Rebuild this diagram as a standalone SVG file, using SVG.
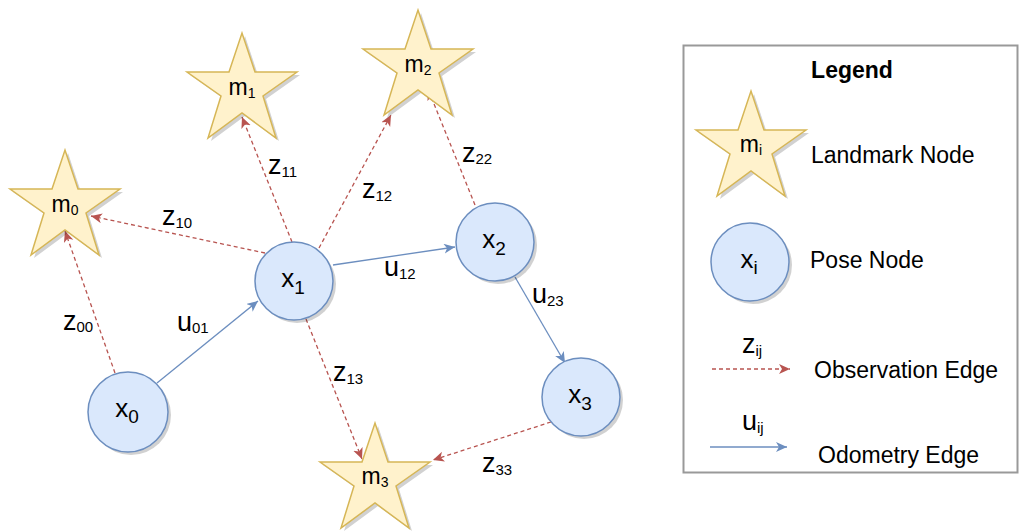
<svg xmlns="http://www.w3.org/2000/svg" xmlns:xlink="http://www.w3.org/1999/xlink" width="1020" height="532" viewBox="0 0 1020 532">
<style>
.star{fill:#fff2cc;stroke:#d6b656;stroke-width:1.5}
.shadow{fill:#000;opacity:0.18}
.pose{fill:#dae8fc;stroke:#6c8ebf;stroke-width:1.5}
.obs{fill:none;stroke:#b85450;stroke-width:1.3;stroke-dasharray:4 3;marker-end:url(#ar)}
.odo{fill:none;stroke:#6c8ebf;stroke-width:1.3;marker-end:url(#ab)}
text{font-family:"Liberation Sans",Arial,sans-serif;fill:#000}
.lbl{font-size:27px}
.nl{font-size:26px}
.ml{font-size:23px}
.sub{font-size:15px}
.xs{font-size:19px}
.ms{font-size:14px}
.leg{font-size:23px}
</style>
<defs>
<polygon id="star" points="0,39 42,39 55,0 68,39 110,39 76,63 89,105 55,80 21,105 34,63"/>
<marker id="ar" markerUnits="userSpaceOnUse" markerWidth="14" markerHeight="12" refX="11" refY="5" orient="auto"><path d="M0,0 L11,5 L0,10 L3,5 Z" fill="#b85450"/></marker>
<marker id="ab" markerUnits="userSpaceOnUse" markerWidth="14" markerHeight="12" refX="11" refY="5" orient="auto"><path d="M0,0 L11,5 L0,10 L3,5 Z" fill="#6c8ebf"/></marker>
</defs>
<rect width="1020" height="532" fill="#fff"/>

<g id="connectors">
<line class="obs" x1="115" y1="373" x2="65" y2="231"/>
<line class="obs" x1="265" y1="253" x2="91" y2="216"/>
<line class="obs" x1="292" y1="242" x2="242" y2="117"/>
<line class="obs" x1="319" y1="248" x2="391" y2="115"/>
<line class="obs" x1="475" y1="205" x2="428" y2="89"/>
<line class="obs" x1="306" y1="319" x2="362" y2="459"/>
<line class="obs" x1="551" y1="422" x2="433" y2="460"/>
<line class="odo" x1="157" y1="383" x2="258" y2="301"/>
<line class="odo" x1="333" y1="265" x2="455" y2="247"/>
<line class="odo" x1="515" y1="277" x2="565" y2="363"/>
<text class="lbl" x="63" y="330">z<tspan class="sub" dy="2">00</tspan></text>
<text class="lbl" x="177" y="331">u<tspan class="sub" dy="2">01</tspan></text>
<text class="lbl" x="162" y="225">z<tspan class="sub" dy="3">10</tspan></text>
<text class="lbl" x="268" y="174">z<tspan class="sub" dy="3">11</tspan></text>
<text class="lbl" x="362" y="198">z<tspan class="sub" dy="3">12</tspan></text>
<text class="lbl" x="462" y="162">z<tspan class="sub" dy="2">22</tspan></text>
<text class="lbl" x="384" y="276">u<tspan class="sub" dy="3">12</tspan></text>
<text class="lbl" x="532" y="303">u<tspan class="sub" dy="3">23</tspan></text>
<text class="lbl" x="333" y="381">z<tspan class="sub" dy="3">13</tspan></text>
<text class="lbl" x="482" y="472">z<tspan class="sub" dy="3">33</tspan></text>
</g>

<g id="m0" transform="translate(10,150)">
<use xlink:href="#star" class="shadow" x="3" y="3"/><use xlink:href="#star" class="star"/>
<text class="ml" x="55" y="62" text-anchor="middle">m<tspan class="ms" dy="3">0</tspan></text>
</g>
<g id="m1" transform="translate(187,33)">
<use xlink:href="#star" class="shadow" x="3" y="3"/><use xlink:href="#star" class="star"/>
<text class="ml" x="55" y="62" text-anchor="middle">m<tspan class="ms" dy="3">1</tspan></text>
</g>
<g id="m2" transform="translate(363,10)">
<use xlink:href="#star" class="shadow" x="3" y="3"/><use xlink:href="#star" class="star"/>
<text class="ml" x="55" y="62" text-anchor="middle">m<tspan class="ms" dy="3">2</tspan></text>
</g>
<g id="m3" transform="translate(320,423)">
<use xlink:href="#star" class="shadow" x="3" y="3"/><use xlink:href="#star" class="star"/>
<text class="ml" x="55" y="61" text-anchor="middle">m<tspan class="ms" dy="3">3</tspan></text>
</g>

<g id="x0">
<circle class="shadow" cx="131" cy="415" r="40"/><circle class="pose" cx="128" cy="412" r="40"/>
<text class="nl" x="127" y="417" text-anchor="middle">x<tspan class="xs" dy="6">0</tspan></text>
</g>
<g id="x1">
<circle class="shadow" cx="297" cy="284" r="39"/><circle class="pose" cx="294" cy="281" r="39"/>
<text class="nl" x="293" y="287" text-anchor="middle">x<tspan class="xs" dy="7">1</tspan></text>
</g>
<g id="x2">
<circle class="shadow" cx="498" cy="245" r="39"/><circle class="pose" cx="495" cy="242" r="39"/>
<text class="nl" x="494" y="248" text-anchor="middle">x<tspan class="xs" dy="7">2</tspan></text>
</g>
<g id="x3">
<circle class="shadow" cx="584" cy="400" r="39"/><circle class="pose" cx="581" cy="397" r="39"/>
<text class="nl" x="580" y="403" text-anchor="middle">x<tspan class="xs" dy="7">3</tspan></text>
</g>

<g id="legend">
<rect x="683.5" y="45.5" width="334" height="427" fill="none" stroke="#999" stroke-width="2"/>
<text x="852" y="78" font-size="23" font-weight="bold" text-anchor="middle">Legend</text>
<g transform="translate(696,91)">
<use xlink:href="#star" class="shadow" x="3" y="3"/><use xlink:href="#star" class="star"/>
<text class="ml" x="55" y="61" text-anchor="middle">m<tspan class="ms" dy="3">i</tspan></text>
</g>
<text class="leg" x="811" y="163">Landmark Node</text>
<circle class="shadow" cx="753" cy="265" r="39"/><circle class="pose" cx="750" cy="262" r="39"/>
<text class="nl" x="749" y="268" text-anchor="middle">x<tspan class="xs" dy="6">i</tspan></text>
<text class="leg" x="810" y="268">Pose Node</text>
<text class="lbl" x="742" y="353">z<tspan class="sub" dy="3">ij</tspan></text>
<line class="obs" x1="712" y1="369" x2="790" y2="369"/>
<text class="leg" x="814" y="378">Observation Edge</text>
<text class="lbl" x="742" y="430">u<tspan class="sub" dy="3">ij</tspan></text>
<line class="odo" x1="710" y1="447" x2="787" y2="447"/>
<text class="leg" x="818" y="463">Odometry Edge</text>
</g>
</svg>
